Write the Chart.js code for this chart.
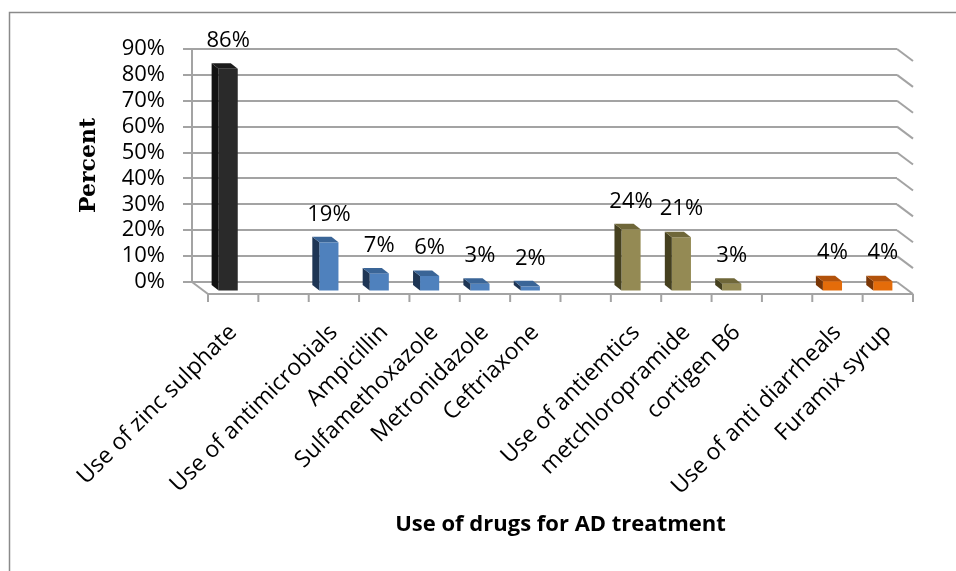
<!DOCTYPE html>
<html>
<head>
<meta charset="utf-8">
<script src="https://cdn.jsdelivr.net/npm/chart.js@4/dist/chart.umd.min.js"></script>
<style>
  html, body { margin: 0; padding: 0; background: #ffffff; }
  #wrap { width: 956px; height: 571px; }
</style>
</head>
<body>
<div id="wrap"><canvas id="c" width="956" height="571"></canvas></div>
<script>
// Drug use categories (blank slots separate the groups)
const categories = [
  'Use of zinc sulphate', '',
  'Use of antimicrobials', 'Ampicillin', 'Sulfamethoxazole', 'Metronidazole', 'Ceftriaxone', '',
  'Use of antiemtics', 'metchloropramide', 'cortigen B6', '',
  'Use of anti diarrheals', 'Furamix syrup'
];
// Percent of cases using each drug
const percentValues = [86, null, 19, 7, 6, 3, 2, null, 24, 21, 3, null, 4, 4];
// Group of each category (drives the bar colour)
const drugGroups = [
  'zinc', '',
  'antimicrobial', 'antimicrobial', 'antimicrobial', 'antimicrobial', 'antimicrobial', '',
  'antiemetic', 'antiemetic', 'antiemetic', '',
  'antidiarrheal', 'antidiarrheal'
];
// Value axis ticks
const yTicks = [0, 10, 20, 30, 40, 50, 60, 70, 80, 90];

const groupColors = {
  zinc:          { front: '#2a2a2a', side: '#121212', top: '#1c1c1c' },
  antimicrobial: { front: '#4f81bd', side: '#1e3554', top: '#3a6597' },
  antiemetic:    { front: '#948a54', side: '#45401f', top: '#6f6739' },
  antidiarrheal: { front: '#e46c0a', side: '#7a3606', top: '#b2520b' },
  '':            { front: '#000000', side: '#000000', top: '#000000' }
};

const GRID = '#a3a3a3';
const FONT = "'Open Sans', 'Liberation Sans', sans-serif";
// depth of the 3-D box (back wall -> front edge of the floor)
const DX = 16, DY = 12;
// bars stand in the middle of the floor depth
const BAR_SHIFT_X = 11, BAR_SHIFT_Y = 9.5;
// depth of each bar
const BAR_DX = 7, BAR_DY = 5.5;

function line(ctx, x1, y1, x2, y2) {
  ctx.beginPath();
  ctx.moveTo(x1, y1);
  ctx.lineTo(x2, y2);
  ctx.stroke();
}

const boxPlugin = {
  id: 'box3d',
  beforeDraw(chart) {
    const ctx = chart.ctx;
    ctx.save();
    ctx.fillStyle = '#ffffff';
    ctx.fillRect(0, 0, chart.width, chart.height);
    ctx.strokeStyle = '#8a8a8a';
    ctx.lineWidth = 1.5;
    ctx.strokeRect(9.5, 12.5, chart.width + 20, chart.height + 20);
    ctx.restore();
  },
  beforeDatasetsDraw(chart) {
    const { ctx, chartArea: a, scales: { y } } = chart;
    ctx.save();
    ctx.strokeStyle = GRID;
    ctx.lineWidth = 2;
    // side wall on the right: gridlines fold forward
    yTicks.forEach(v => {
      const py = y.getPixelForValue(v);
      line(ctx, a.right, py, a.right + DX, py + DY);
    });
    // floor: left edge and front edge with category ticks
    const y0 = y.getPixelForValue(0);
    line(ctx, a.left, y0, a.left + DX, y0 + DY);
    line(ctx, a.left + DX, y0 + DY, a.right + DX, y0 + DY);
    const n = categories.length;
    const step = (a.right - a.left) / n;
    for (let k = 0; k <= n; k++) {
      const x = a.left + DX + k * step;
      line(ctx, x, y0 + DY, x, y0 + DY + 8);
    }
    ctx.restore();
    // bars are drawn into the middle of the box
    ctx.save();
    ctx.translate(BAR_SHIFT_X, BAR_SHIFT_Y);
  },
  afterDatasetsDraw(chart) {
    const ctx = chart.ctx;
    const bars = chart.getDatasetMeta(0).data;
    bars.forEach((bar, i) => {
      if (percentValues[i] === null) return;
      const c = groupColors[drugGroups[i]];
      const { x, y, base, width } = bar.getProps(['x', 'y', 'base', 'width'], true);
      const L = x - width / 2, R = x + width / 2;
      // left side face
      ctx.fillStyle = c.side;
      ctx.beginPath();
      ctx.moveTo(L, y);
      ctx.lineTo(L - BAR_DX, y - BAR_DY);
      ctx.lineTo(L - BAR_DX, base - BAR_DY);
      ctx.lineTo(L, base);
      ctx.closePath();
      ctx.fill();
      // top face
      ctx.fillStyle = c.top;
      ctx.beginPath();
      ctx.moveTo(L, y);
      ctx.lineTo(L - BAR_DX, y - BAR_DY);
      ctx.lineTo(R - BAR_DX, y - BAR_DY);
      ctx.lineTo(R, y);
      ctx.closePath();
      ctx.fill();
    });
    ctx.restore();

    // value labels above the bars
    ctx.save();
    ctx.fillStyle = '#000000';
    ctx.font = '22px ' + FONT;
    ctx.textAlign = 'center';
    ctx.textBaseline = 'middle';
    bars.forEach((bar, i) => {
      if (percentValues[i] === null) return;
      const { x, y } = bar.getProps(['x', 'y'], true);
      ctx.fillText(percentValues[i] + '%', x + BAR_SHIFT_X, y + BAR_SHIFT_Y - 28);
    });
    ctx.restore();
  },
  afterDraw(chart) {
    const { ctx, chartArea: a } = chart;
    ctx.save();
    ctx.fillStyle = '#000000';
    ctx.font = 'bold 22px ' + FONT;
    ctx.textAlign = 'center';
    ctx.textBaseline = 'middle';
    ctx.fillText('Use of drugs for AD treatment', (a.left + a.right) / 2 + DX, 525);
    ctx.restore();
  }
};

new Chart(document.getElementById('c'), {
  type: 'bar',
  data: {
    labels: categories,
    datasets: [{
      data: percentValues,
      backgroundColor: drugGroups.map(g => groupColors[g].front),
      borderWidth: 0,
      barPercentage: 0.38,
      categoryPercentage: 1.0,
      clip: false
    }]
  },
  options: {
    responsive: false,
    animation: false,
    devicePixelRatio: 1,
    layout: { padding: { top: 49, right: 59, bottom: 0, left: 0 } },
    plugins: {
      legend: { display: false },
      tooltip: { enabled: false }
    },
    scales: {
      x: {
        type: 'category',
        offset: true,
        grid: { display: false },
        border: { display: false },
        ticks: {
          autoSkip: false,
          minRotation: 45,
          maxRotation: 45,
          padding: 29,
          labelOffset: 16,
          color: '#000000',
          font: { family: FONT, size: 23 }
        },
        afterFit(s) { s.height = 289; }
      },
      y: {
        min: 0,
        max: 90,
        afterBuildTicks(s) { s.ticks = yTicks.map(v => ({ value: v })); },
        ticks: {
          autoSkip: false,
          callback: v => v + '%',
          padding: 18,
          color: '#000000',
          font: { family: FONT, size: 22 }
        },
        grid: { color: GRID, lineWidth: 2, tickLength: 9, drawTicks: true },
        border: { display: true, color: GRID, width: 2 },
        title: {
          display: true,
          text: 'Percent',
          color: '#000000',
          font: { family: "'DejaVu Serif', serif", size: 22, weight: 'bold' },
          padding: { top: 76, bottom: 0 }
        },
        afterFit(s) { s.width = 192; }
      }
    }
  },
  plugins: [boxPlugin]
});
</script>
</body>
</html>
